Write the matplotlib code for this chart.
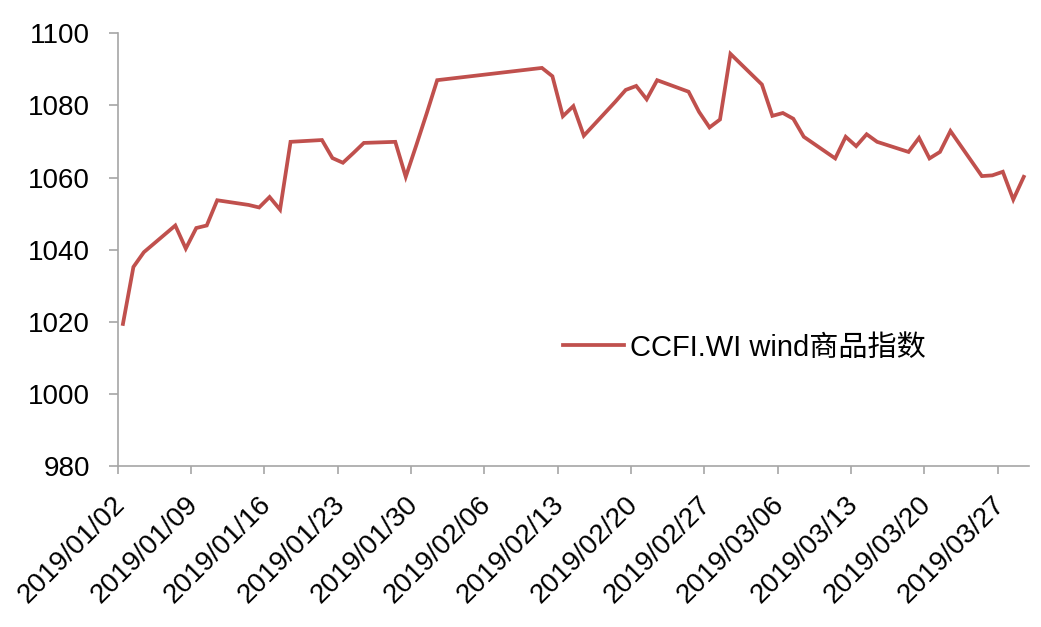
import matplotlib
matplotlib.use("Agg")
import matplotlib.pyplot as plt
import matplotlib.dates as mdates
import matplotlib.transforms as mtransforms
import datetime as dt

dates = [
    "2019-01-02", "2019-01-03", "2019-01-04", "2019-01-07", "2019-01-08", "2019-01-09",
    "2019-01-10", "2019-01-11", "2019-01-14", "2019-01-15", "2019-01-16", "2019-01-17",
    "2019-01-18", "2019-01-21", "2019-01-22", "2019-01-23", "2019-01-24", "2019-01-25",
    "2019-01-28", "2019-01-29", "2019-01-30", "2019-01-31", "2019-02-01", "2019-02-11",
    "2019-02-12", "2019-02-13", "2019-02-14", "2019-02-15", "2019-02-18", "2019-02-19",
    "2019-02-20", "2019-02-21", "2019-02-22", "2019-02-25", "2019-02-26", "2019-02-27",
    "2019-02-28", "2019-03-01", "2019-03-04", "2019-03-05", "2019-03-06", "2019-03-07",
    "2019-03-08", "2019-03-11", "2019-03-12", "2019-03-13", "2019-03-14", "2019-03-15",
    "2019-03-18", "2019-03-19", "2019-03-20", "2019-03-21", "2019-03-22", "2019-03-25",
    "2019-03-26", "2019-03-27", "2019-03-28", "2019-03-29",
]
values = [
    1019.4, 1035.2, 1039.3, 1046.7, 1040.3, 1046.0,
    1046.7, 1053.7, 1052.4, 1051.7, 1054.6, 1051.1,
    1069.9, 1070.4, 1065.4, 1064.1, 1066.8, 1069.6,
    1069.9, 1060.2, 1068.9, 1077.8, 1087.0, 1090.4,
    1088.1, 1077.0, 1079.8, 1071.6, 1081.0, 1084.3,
    1085.4, 1081.7, 1087.0, 1083.8, 1078.2, 1073.9,
    1076.1, 1094.3, 1085.8, 1077.1, 1077.9, 1076.3,
    1071.3, 1065.3, 1071.3, 1068.7, 1072.0, 1069.9,
    1067.1, 1071.0, 1065.3, 1067.1, 1072.9, 1060.4,
    1060.6, 1061.6, 1053.9, 1060.2,
]
series_label = "CCFI.WI wind商品指数"
y_ticks = [980, 1000, 1020, 1040, 1060, 1080, 1100]
x_tick_start = "2019-01-02"
x_tick_end = "2019-03-27"
x_range = ("2019-01-02", "2019-03-30")

plt.rcParams['font.family'] = ['Liberation Sans', 'Noto Sans CJK SC', 'DejaVu Sans']

W, H = 1041, 627
fig = plt.figure(figsize=(W / 100, H / 100), dpi=100)
ax = fig.add_axes([117.7 / W, 1 - 466 / H, (1029 - 117.7) / W, (466 - 33.3) / H])

d = [dt.datetime.strptime(s, "%Y-%m-%d") + dt.timedelta(hours=12) for s in dates]
ax.plot(d, values, color="#C0504D", lw=2.7, label=series_label, solid_joinstyle="miter")

ax.set_ylim(980, 1100)
ax.set_yticks(y_ticks)
ax.set_xlim(dt.datetime.strptime(x_range[0], "%Y-%m-%d"), dt.datetime.strptime(x_range[1], "%Y-%m-%d"))
t0 = dt.datetime.strptime(x_tick_start, "%Y-%m-%d")
t1 = dt.datetime.strptime(x_tick_end, "%Y-%m-%d")
ticks = []
t = t0
while t <= t1:
    ticks.append(t)
    t += dt.timedelta(days=7)
ax.set_xticks(ticks)
ax.xaxis.set_major_formatter(mdates.DateFormatter("%Y/%m/%d"))

for s in ["top", "right"]:
    ax.spines[s].set_visible(False)
for s in ["left", "bottom"]:
    ax.spines[s].set_color("#A6A6A6")
    ax.spines[s].set_linewidth(1.2)

ax.tick_params(axis="y", length=6.5, width=1.2, color="#A6A6A6", pad=13.5, labelsize=20)
ax.tick_params(axis="x", length=6, width=1.2, color="#A6A6A6", pad=19, labelsize=20)

offset = mtransforms.ScaledTranslation(3 / 100, 0, fig.dpi_scale_trans)
for lbl in ax.get_xticklabels():
    lbl.set_rotation(45)
    lbl.set_ha("right")
    lbl.set_va("center")
    lbl.set_rotation_mode("anchor")
    lbl.set_transform(lbl.get_transform() + offset)

ax.legend(loc="center left", bbox_to_anchor=(563 / W, 1 - 347.7 / H),
          bbox_transform=fig.transFigure, frameon=False, fontsize=21,
          handlelength=2.1, handletextpad=0.2, borderpad=0, borderaxespad=0)

fig.savefig("out.png", dpi=100)
